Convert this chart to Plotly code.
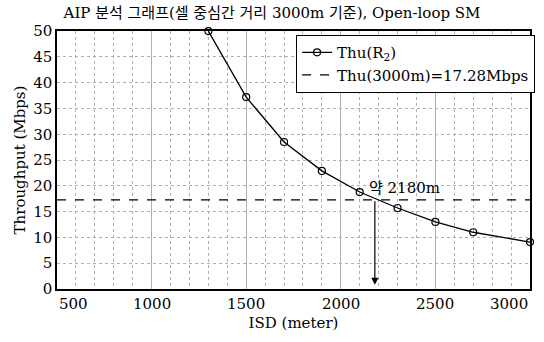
import plotly.graph_objects as go

# Inter-site distance (m) and throughput of R2 (Mbps)
isd_values = [1300, 1500, 1700, 1900, 2100, 2300, 2500, 2700, 3000]
throughput = [50.0, 37.2, 28.5, 22.9, 18.8, 15.7, 13.0, 11.0, 9.1]

# Reference throughput at 3000 m and the crossing distance
ref_label = "Thu(3000m)=17.28Mbps"
ref_value = 17.28
cross_isd = 2180

x_ticks = [500, 1000, 1500, 2000, 2500, 3000]
y_ticks = [0, 5, 10, 15, 20, 25, 30, 35, 40, 45, 50]

FONT = "DejaVu Serif, Noto Sans CJK KR, serif"

fig = go.Figure()

fig.add_trace(go.Scatter(
    x=isd_values, y=throughput, mode="lines+markers",
    name="Thu(R<sub>2</sub>)",
    line=dict(color="black", width=1.3),
    marker=dict(symbol="circle-open", size=7, color="black", line=dict(width=1.2)),
    cliponaxis=False,
))

fig.add_trace(go.Scatter(
    x=[x_ticks[0], x_ticks[-1]], y=[ref_value, ref_value], mode="lines",
    name=ref_label,
    line=dict(color="black", width=1.3, dash="dash"),
))

# Arrow from the crossing point down to the x axis
fig.add_annotation(
    x=cross_isd, y=0.8, ax=cross_isd, ay=ref_value,
    xref="x", yref="y", axref="x", ayref="y",
    showarrow=True, arrowhead=2, arrowsize=1.2, arrowwidth=1.2,
    arrowcolor="black", text="",
)
fig.add_annotation(
    x=cross_isd, y=ref_value, xref="x", yref="y",
    text=f"약 {cross_isd}m", showarrow=False,
    xanchor="left", yanchor="bottom", xshift=-8, yshift=1,
    font=dict(family=FONT, size=15, color="black"),
)

# X tick labels; the end labels are kept inside the plot edges
for i, v in enumerate(x_ticks):
    anchor = "left" if i == 0 else ("right" if i == len(x_ticks) - 1 else "center")
    fig.add_annotation(
        x=v, y=0, xref="x", yref="paper", text=str(v), showarrow=False,
        xanchor=anchor, yanchor="top", yshift=-4,
        font=dict(family=FONT, size=15, color="black"),
    )

fig.update_layout(
    width=544, height=342,
    margin=dict(l=57, r=9, t=31, b=53),
    paper_bgcolor="white", plot_bgcolor="white",
    font=dict(family=FONT, size=14, color="black"),
    title=dict(
        text="AIP 분석 그래프(셀 중심간 거리 3000m 기준), Open-loop SM",
        x=0.5, xanchor="center", y=0.962, yanchor="middle",
        font=dict(family=FONT, size=15, color="black"),
    ),
    showlegend=True,
    legend=dict(
        x=0.505, y=0.985, xanchor="left", yanchor="top",
        bgcolor="white", bordercolor="black", borderwidth=1.2,
        font=dict(family=FONT, size=15, color="black"),
        tracegroupgap=0, itemwidth=30,
    ),
    xaxis=dict(
        range=[500, 3000], tickvals=x_ticks, showticklabels=False,
        showgrid=True, gridcolor="#b0b0b0", gridwidth=1,
        minor=dict(dtick=100, showgrid=True, gridcolor="#b0b0b0",
                   griddash="dot", gridwidth=1),
        showline=True, linecolor="black", linewidth=1.5, mirror=True,
        zeroline=False, ticks="",
        title=dict(text="ISD (meter)", standoff=28,
                   font=dict(family=FONT, size=15)),
    ),
    yaxis=dict(
        range=[0, 50.02], tickvals=y_ticks,
        showgrid=True, gridcolor="#b0b0b0", griddash="dot", gridwidth=1,
        showline=True, linecolor="black", linewidth=1.5, mirror=True,
        zeroline=False, ticks="",
        title=dict(text="Throughput (Mbps)", standoff=4,
                   font=dict(family=FONT, size=15)),
        tickfont=dict(family=FONT, size=15),
    ),
)

fig.write_html("out.html")
